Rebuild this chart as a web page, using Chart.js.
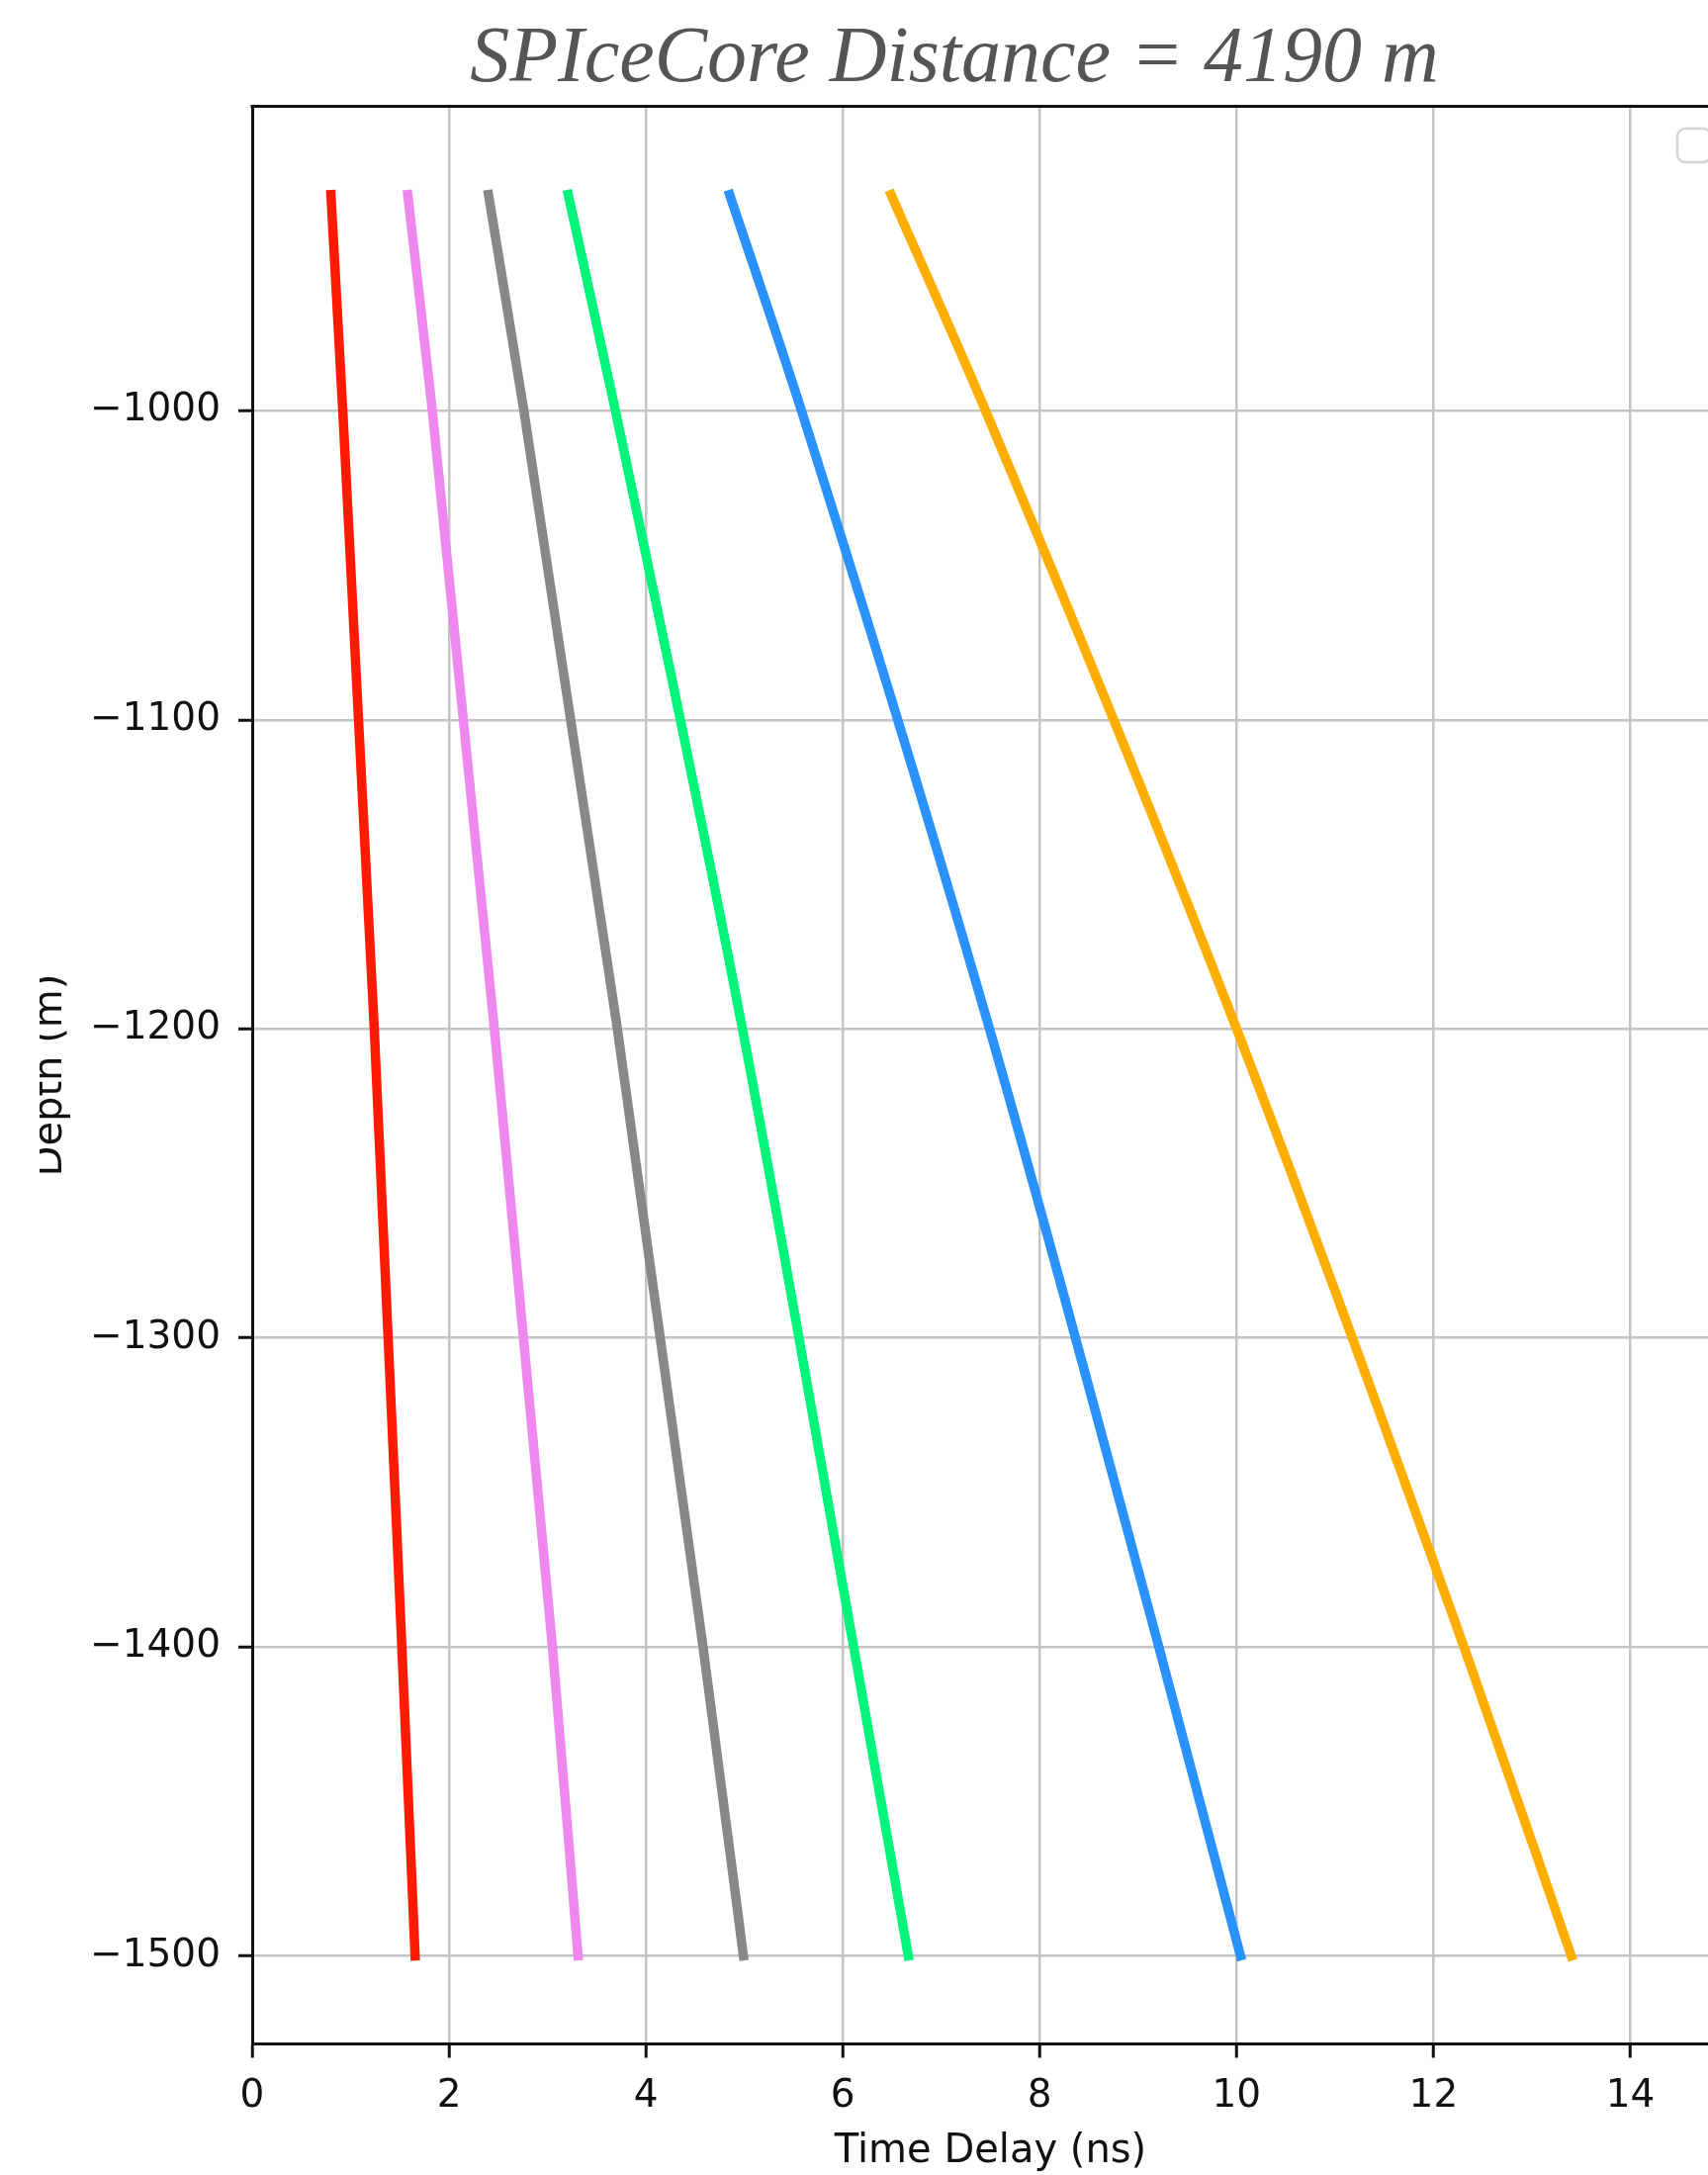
<!DOCTYPE html>
<html>
<head>
<meta charset="utf-8">
<script src="https://cdn.jsdelivr.net/npm/chart.js@4/dist/chart.umd.min.js"></script>
<style>
  html, body { margin: 0; padding: 0; background: #fff; overflow: hidden; }
  canvas { display: block; }
</style>
</head>
<body>
<canvas id="c" width="1760" height="2199" style="width:1760px;height:2199px"></canvas>
<script>
// Depth samples (m) shared by every curve
const depths = [-930, -1000, -1200, -1400, -1500];

// Time delay (ns) of each curve at the depths above
const delayRed    = [0.80, 0.92, 1.24, 1.52, 1.655];
const delayViolet = [1.58, 1.83, 2.46, 3.05, 3.31];
const delayGray   = [2.40, 2.76, 3.71, 4.58, 4.99];
const delayGreen  = [3.21, 3.69, 4.98, 6.11, 6.665];
const delayBlue   = [4.85, 5.58, 7.49, 9.21, 10.04];
const delayOrange = [6.49, 7.45, 10.00, 12.31, 13.40];

const xTicks = [0, 2, 4, 6, 8, 10, 12, 14];
const yTicks = [-1000, -1100, -1200, -1300, -1400, -1500];

const titleText = 'SPIceCore Distance = 4190 m';
const xLabel = 'Time Delay (ns)';
const yLabel = 'Depth (m)';

// Plot frame geometry
const frame = { left: 255, right: 1748, top: 107.6, bottom: 2066.5 };
const canvasEl = document.getElementById('c');
const W = canvasEl.width, H = canvasEl.height;

function curve(values, color) {
  return {
    data: depths.map((d, i) => ({ x: values[i], y: d })),
    borderColor: color,
    backgroundColor: color,
    borderWidth: 9.5,
    borderCapStyle: 'square',
    borderJoinStyle: 'round',
    cubicInterpolationMode: 'monotone',
    pointRadius: 0,
    pointHoverRadius: 0,
    showLine: true,
    fill: false
  };
}

const datasets = [
  curve(delayRed, '#ff1a00'),
  curve(delayViolet, '#ee88ee'),
  curve(delayGray, '#888888'),
  curve(delayGreen, '#00f57a'),
  curve(delayBlue, '#2a92ff'),
  curve(delayOrange, '#ffae00')
];

const tickFont = { family: 'DejaVu Sans', size: 39 };

// Title, y label (clipped at the left edge), top spine and the empty legend frame
const decorations = {
  id: 'decorations',
  afterDraw(chart) {
    const ctx = chart.ctx;
    const a = chart.chartArea;

    ctx.save();
    ctx.strokeStyle = '#111';
    ctx.lineWidth = 3;
    ctx.beginPath();
    ctx.moveTo(a.left - 1.5, a.top);
    ctx.lineTo(a.right, a.top);
    ctx.lineTo(a.right, a.bottom);
    ctx.stroke();
    ctx.restore();

    ctx.save();
    ctx.fillStyle = '#555555';
    ctx.font = 'italic 80px "Liberation Serif"';
    ctx.textAlign = 'center';
    ctx.textBaseline = 'alphabetic';
    ctx.fillText(titleText, 965, 82);
    ctx.restore();

    ctx.save();
    ctx.beginPath();
    ctx.rect(40, 0, 200, H);
    ctx.clip();
    ctx.translate(62, (a.top + a.bottom) / 2);
    ctx.rotate(-Math.PI / 2);
    ctx.fillStyle = '#111';
    ctx.font = '40px "DejaVu Sans"';
    ctx.textAlign = 'center';
    ctx.textBaseline = 'alphabetic';
    ctx.fillText(yLabel, 0, 0);
    ctx.restore();

    ctx.save();
    ctx.fillStyle = 'rgba(255,255,255,0.8)';
    ctx.strokeStyle = '#d4d4d4';
    ctx.lineWidth = 2.5;
    ctx.beginPath();
    ctx.roundRect(1696, 130, 34, 34, 8);
    ctx.fill();
    ctx.stroke();
    ctx.restore();
  }
};

new Chart(canvasEl, {
  type: 'scatter',
  data: { datasets },
  options: {
    responsive: false,
    animation: false,
    events: [],
    layout: { padding: { left: 0, right: W - frame.right, top: frame.top, bottom: 0 } },
    plugins: { legend: { display: false }, tooltip: { enabled: false }, title: { display: false } },
    scales: {
      x: {
        type: 'linear',
        min: 0,
        max: 15,
        afterBuildTicks: s => { s.ticks = xTicks.map(v => ({ value: v })); },
        afterFit: s => { s.height = H - frame.bottom; },
        ticks: { font: tickFont, color: '#111', padding: 16, maxRotation: 0, autoSkip: false,
                 callback: v => String(v) },
        grid: { color: '#c4c4c4', lineWidth: 2.5, drawTicks: true, tickLength: 14,
                tickColor: '#111', tickWidth: 3 },
        border: { display: true, color: '#111', width: 3 },
        title: { display: true, text: xLabel, color: '#111',
                 font: { family: 'DejaVu Sans', size: 40, lineHeight: 1.15 },
                 padding: { top: 0, bottom: 0 } }
      },
      y: {
        type: 'linear',
        min: -1528.5,
        max: -901.5,
        afterBuildTicks: s => { s.ticks = yTicks.map(v => ({ value: v })); },
        afterFit: s => { s.width = frame.left; },
        ticks: { font: tickFont, color: '#111', padding: 18, autoSkip: false,
                 callback: v => (v < 0 ? '\u2212' + Math.abs(v) : String(v)) },
        grid: { color: '#c4c4c4', lineWidth: 2.5, drawTicks: true, tickLength: 14,
                tickColor: '#111', tickWidth: 3 },
        border: { display: true, color: '#111', width: 3 }
      }
    }
  },
  plugins: [decorations]
});
</script>
</body>
</html>
